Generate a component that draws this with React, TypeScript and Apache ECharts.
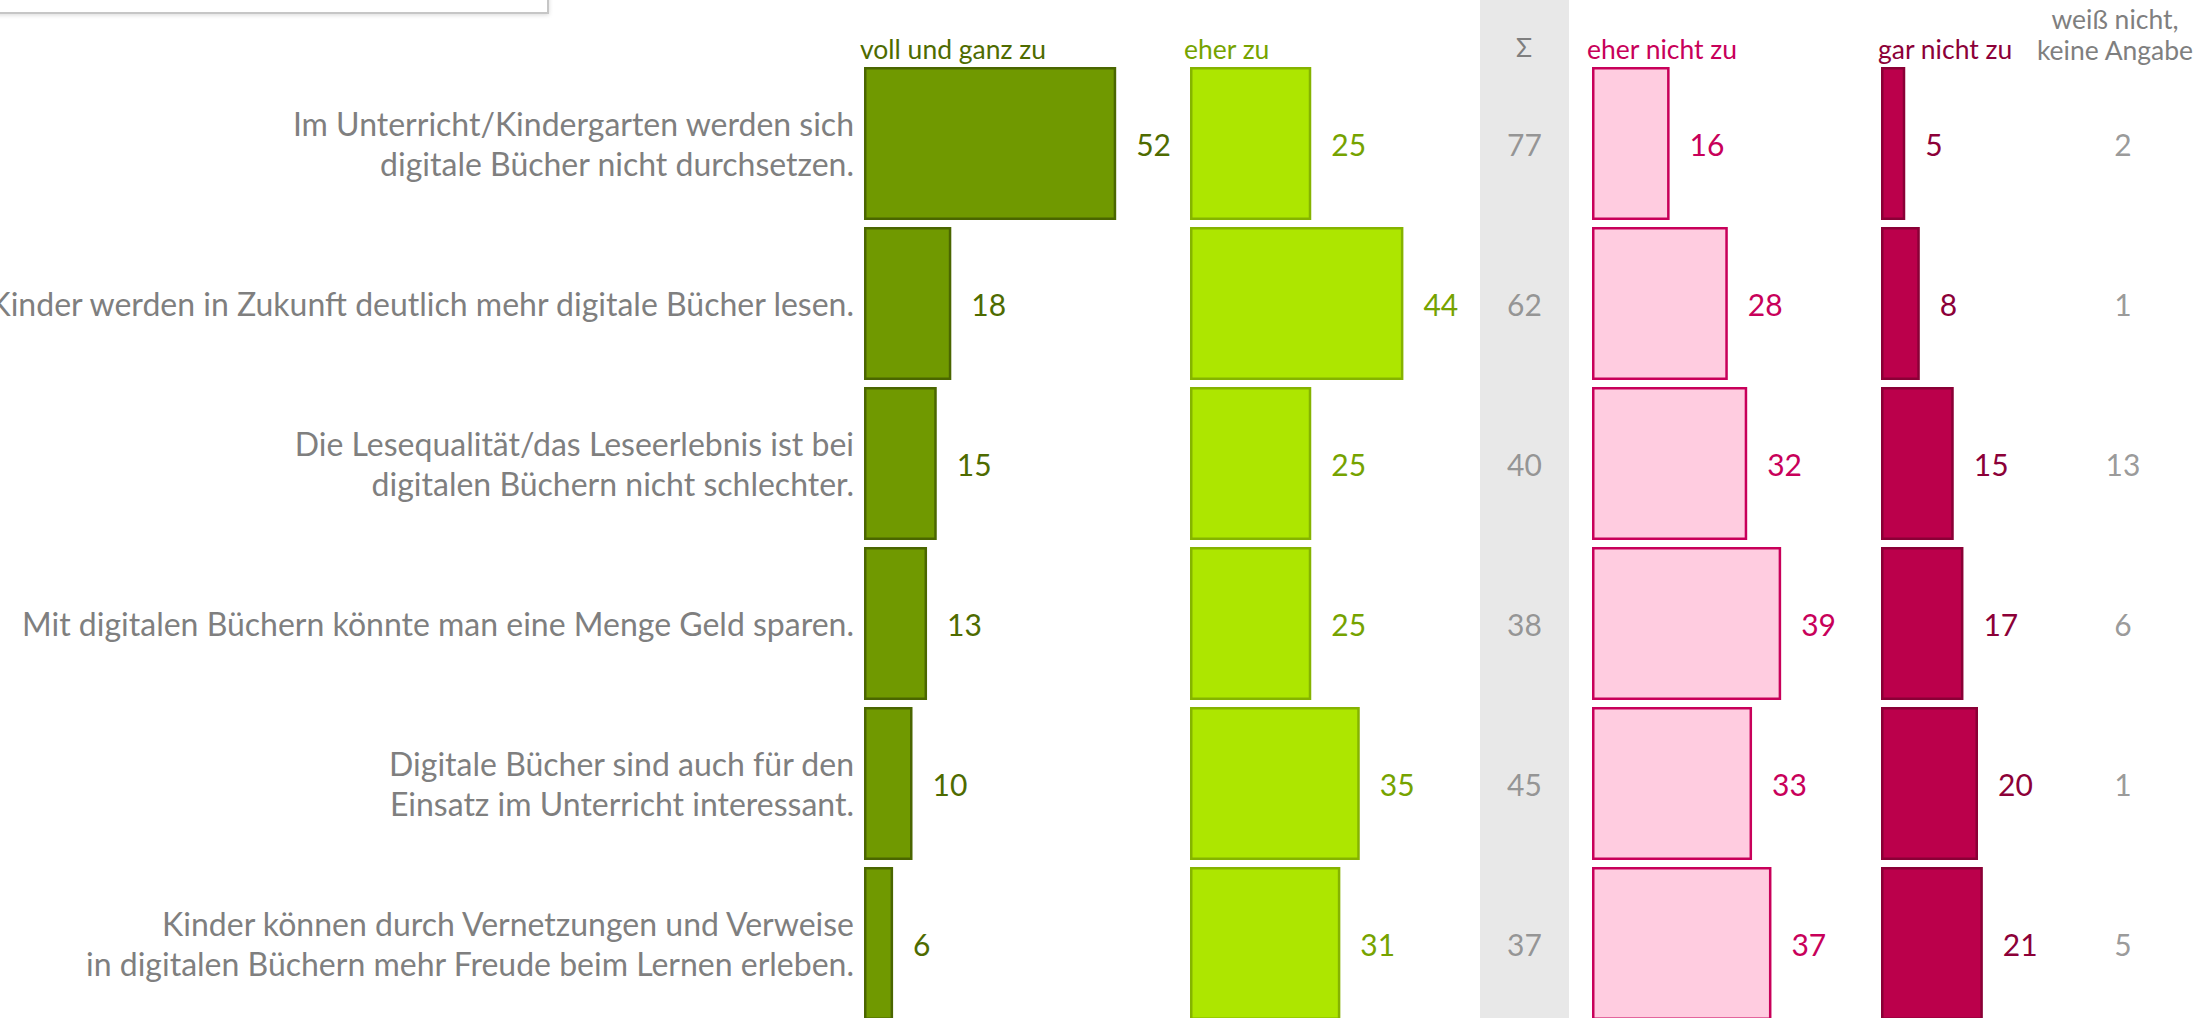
import React, { useEffect, useRef } from "react";
import * as echarts from "echarts";

const statements = [
  "Im Unterricht/Kindergarten werden sich\ndigitale Bücher nicht durchsetzen.",
  "Kinder werden in Zukunft deutlich mehr digitale Bücher lesen.",
  "Die Lesequalität/das Leseerlebnis ist bei\ndigitalen Büchern nicht schlechter.",
  "Mit digitalen Büchern könnte man eine Menge Geld sparen.",
  "Digitale Bücher sind auch für den\nEinsatz im Unterricht interessant.",
  "Kinder können durch Vernetzungen und Verweise\nin digitalen Büchern mehr Freude beim Lernen erleben.",
];
const vollUndGanzZu = [52, 18, 15, 13, 10, 6];
const eherZu = [25, 44, 25, 25, 35, 31];
const summe = [77, 62, 40, 38, 45, 37];
const eherNichtZu = [16, 28, 32, 39, 33, 37];
const garNichtZu = [5, 8, 15, 17, 20, 21];
const weissNicht = [2, 1, 13, 6, 1, 5];

const FONT = "Lato";
const GRAY = "#7f7f7f";
const PX_PER_UNIT = 4.85;
const MAXV = 60;
const TOP = 63.5;
const ROW = 160;
const BAR_H = 153;

export default function App() {
  const ref = useRef<HTMLDivElement>(null);
  useEffect(() => {
    if (!ref.current) return;
    const chart = echarts.init(ref.current, undefined, { renderer: "svg" });
    const cats = statements.map((_, i) => String(i));
    const gridTop = TOP;
    const gridH = ROW * statements.length;
    const barGrids = [
      { left: 864, width: MAXV * PX_PER_UNIT },
      { left: 1190, width: MAXV * PX_PER_UNIT },
      { left: 1480, width: 89 },
      { left: 1592, width: MAXV * PX_PER_UNIT },
      { left: 1881, width: MAXV * PX_PER_UNIT },
      { left: 2080, width: 86 },
    ];
    const grid = barGrids.map((g) => ({
      left: g.left,
      width: g.width,
      top: gridTop,
      height: gridH,
      containLabel: false,
      outerBoundsMode: "none",
    }));
    const xAxis = barGrids.map((_, i) => ({
      type: "value",
      gridIndex: i,
      min: i === 2 || i === 5 ? -1 : 0,
      max: i === 2 || i === 5 ? 1 : MAXV,
      show: false,
    }));
    const yAxis = barGrids.map((_, i) => ({
      type: "category",
      gridIndex: i,
      data: i === 0 ? statements : cats,
      inverse: true,
      axisLine: { show: false },
      axisTick: { show: false },
      splitLine: { show: false },
      axisLabel:
        i === 0
          ? {
              show: true,
              interval: 0,
              color: GRAY,
              fontSize: 32,
              lineHeight: 40,
              fontFamily: FONT,
              margin: 10,
              align: "right",
            }
          : { show: false },
    }));
    const barSeries = (idx: number, data: number[], fill: string, border: string, textColor: string) => ({
      type: "bar",
      xAxisIndex: idx,
      yAxisIndex: idx,
      data,
      barWidth: BAR_H,
      itemStyle: { color: fill, borderColor: border, borderWidth: 2.5 },
      label: {
        show: true,
        position: "right",
        distance: 20,
        color: textColor,
        fontSize: 30,
        fontFamily: FONT,
      },
      silent: true,
    });
    const textSeries = (idx: number, values: number[]) => ({
      type: "scatter",
      xAxisIndex: idx,
      yAxisIndex: idx,
      data: values.map((_, i) => [0, i]),
      symbolSize: 1,
      itemStyle: { color: "rgba(0,0,0,0)" },
      label: {
        show: true,
        position: "inside",
        color: GRAY,
        fontSize: 30,
        fontFamily: FONT,
        formatter: (p: any) => String(values[p.dataIndex]),
      },
      silent: true,
    });
    const headerText = (text: string, x: number, y: number, color: string, align = "left") => ({
      type: "text",
      x,
      y,
      silent: true,
      style: {
        text,
        fill: color,
        font: `26.5px ${FONT}`,
        align,
        verticalAlign: "middle",
        lineHeight: 31,
      },
    });
    chart.setOption({
      animation: false,
      backgroundColor: "#ffffff",
      grid,
      xAxis,
      yAxis,
      graphic: [
        { type: "rect", silent: true, z: -10, shape: { x: 1480, y: 0, width: 89, height: 1018 }, style: { fill: "#e8e8e8" } },
        {
          type: "rect",
          silent: true,
          shape: { x: -4, y: -20, width: 552, height: 33 },
          style: { fill: "#ffffff", stroke: "#c6c6c6", lineWidth: 2, shadowColor: "rgba(0,0,0,0.15)", shadowBlur: 4, shadowOffsetY: 1 },
        },
        headerText("voll und ganz zu", 860, 49, "#4e6b00"),
        headerText("eher zu", 1184, 49, "#76a300"),
        headerText("Σ", 1524, 47, GRAY, "center"),
        headerText("eher nicht zu", 1587, 49, "#c8005a"),
        headerText("gar nicht zu", 1878, 49, "#8c0038"),
        headerText("weiß nicht,\nkeine Angabe", 2115, 34, GRAY, "center"),
      ],
      series: [
        barSeries(0, vollUndGanzZu, "#709900", "#4a6600", "#4e6b00"),
        barSeries(1, eherZu, "#ade600", "#85b300", "#76a300"),
        textSeries(2, summe),
        barSeries(3, eherNichtZu, "#ffcce0", "#c8005a", "#c8005a"),
        barSeries(4, garNichtZu, "#bb004b", "#8a0036", "#8c0038"),
        textSeries(5, weissNicht),
      ],
    });
    return () => chart.dispose();
  }, []);
  return (
    <div
      ref={ref}
      style={{ position: "fixed", left: 0, top: 0, width: 2196, height: 1018, overflow: "hidden" }}
    />
  );
}
